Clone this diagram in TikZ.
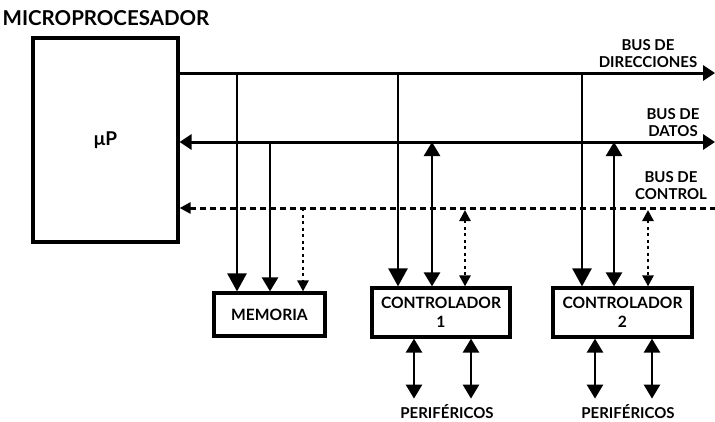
\documentclass[tikz,border=0pt]{standalone}
\usepackage{fontspec}
\setmainfont{Lato}
\usetikzlibrary{arrows.meta,positioning,calc}
\tikzset{
  block/.style={draw,line width=3.2pt,inner sep=0pt,align=center,
    font=\bfseries\fontsize{15.6}{19}\selectfont},
  lbl/.style={align=center,font=\bfseries\fontsize{15}{17}\selectfont},
  bus/.style={line width=3pt},
  ctl/.style={line width=3pt,dash pattern=on 6pt off 4pt},
  tap/.style={line width=2.6pt},
  ctltap/.style={line width=2.6pt,dash pattern=on 3pt off 3.5pt},
  addrtip/.tip={Triangle[width=19pt,length=18pt]},
  datatip/.tip={Triangle[width=16pt,length=14pt]},
  ctltip/.tip={Triangle[width=11pt,length=11pt]},
  endtip/.tip={Triangle[width=15pt,length=12pt]},
}
\begin{document}
\begin{tikzpicture}[x=1pt,y=-1pt]
\useasboundingbox (0,0) rectangle (715,421);

% processor and blocks
\node[lbl,font=\bfseries\fontsize{20.5}{21}\selectfont] (title) at (106,18) {MICROPROCESADOR};
\node[block,minimum width=145pt,minimum height=204pt,
  font=\bfseries\fontsize{19}{19}\selectfont] (mp) at (105.5,140) {μP};
\node[block,minimum width=111pt,minimum height=43pt] (mem) at (269.5,314.5) {MEMORIA};
\node[block,minimum width=138pt,minimum height=49pt] (ctrl1) at (441,312.5) {CONTROLADOR\\1};
\node[block,minimum width=139pt,minimum height=49pt] (ctrl2) at (622.5,312.5) {CONTROLADOR\\2};

% bus labels
\node[lbl] (dirlbl) at (648,54) {BUS DE\\DIRECCIONES};
\node[lbl] (datlbl) at (673,122.5) {BUS DE\\DATOS};
\node[lbl] (ctllbl) at (671,185.5) {BUS DE\\CONTROL};
\node[lbl] (per1) at (447,412) {PERIFÉRICOS};
\node[lbl] (per2) at (628,412) {PERIFÉRICOS};

% buses
\coordinate (dirE) at (715,73);
\coordinate (datE) at (715,142);
\coordinate (ctlE) at (715,208);
\draw[bus,-endtip] (mp.east |- dirE) -- (dirE);
\draw[bus,endtip-endtip] (mp.east |- datE) -- (datE);
\draw[ctl,ctltip-] (mp.east |- ctlE) -- (ctlE);

% taps on the buses
\foreach \n/\x/\y in {m1/237/73,m2/270/142,m3/303/208,
                      a1/398/73,a2/432/142,a3/465/208,
                      b1/582/73,b2/614/142,b3/648/208}
  \coordinate (\n) at (\x,\y);

\draw[tap,-addrtip] (m1) -- (m1 |- mem.north);
\draw[tap,-datatip] (m2) -- (m2 |- mem.north);
\draw[ctltap,-ctltip] (m3) -- (m3 |- mem.north);

\draw[tap,-addrtip] (a1) -- (a1 |- ctrl1.north);
\draw[tap,datatip-datatip] (a2) -- (a2 |- ctrl1.north);
\draw[ctltap,ctltip-ctltip] ([yshift=-2pt]a3) -- (a3 |- ctrl1.north);

\draw[tap,-addrtip] (b1) -- (b1 |- ctrl2.north);
\draw[tap,datatip-datatip] (b2) -- (b2 |- ctrl2.north);
\draw[ctltap,ctltip-ctltip] ([yshift=-2pt]b3) -- (b3 |- ctrl2.north);

% peripherals
\draw[tap,datatip-datatip] ([xshift=-27pt]ctrl1.south) -- ++(0,60);
\draw[tap,datatip-datatip] ([xshift=30pt]ctrl1.south) -- ++(0,60);
\draw[tap,datatip-datatip] ([xshift=-27.5pt]ctrl2.south) -- ++(0,60);
\draw[tap,datatip-datatip] ([xshift=29.5pt]ctrl2.south) -- ++(0,60);
\end{tikzpicture}
\end{document}
